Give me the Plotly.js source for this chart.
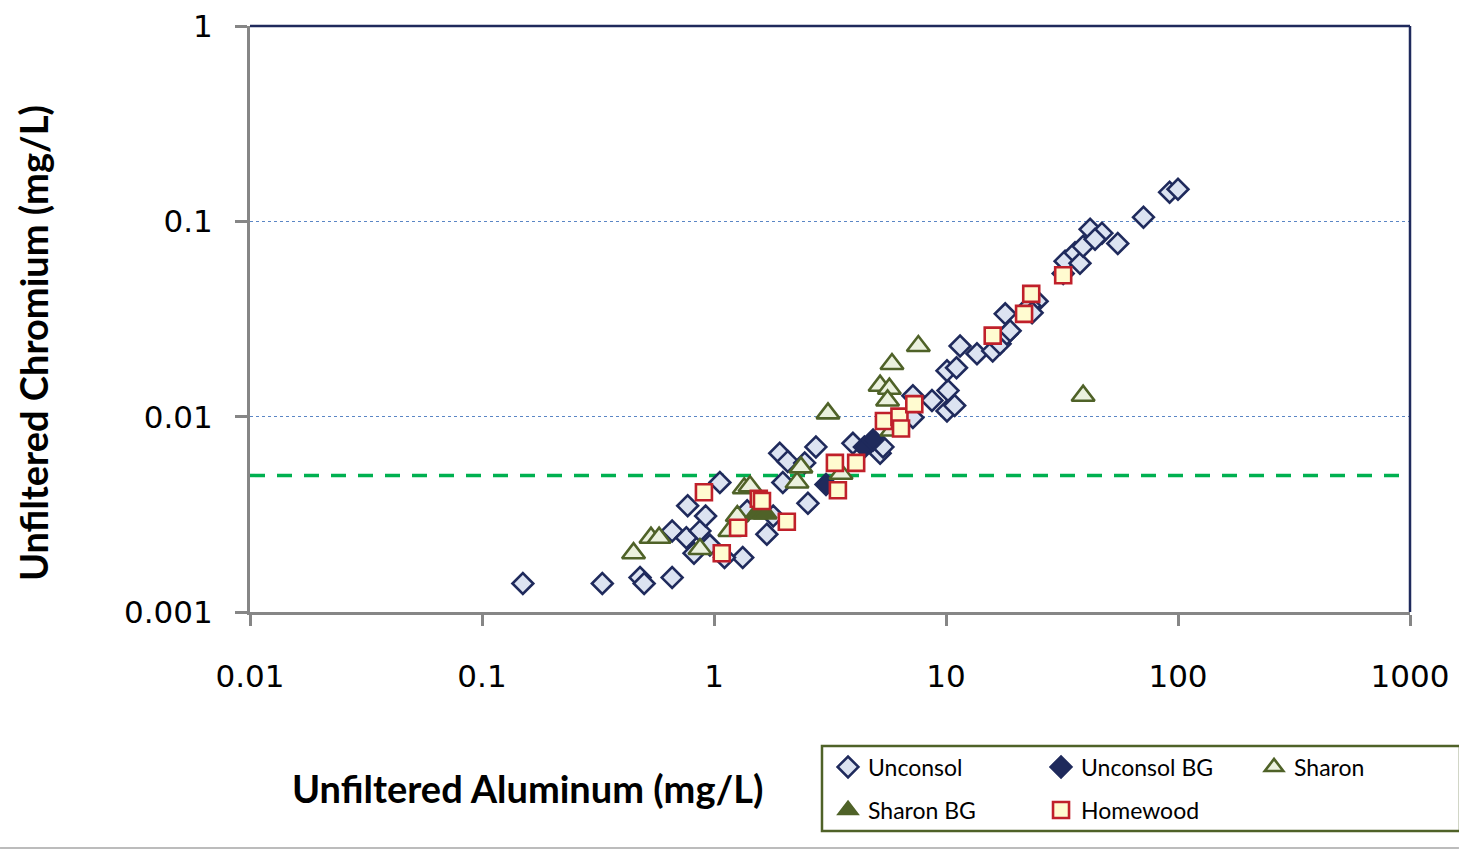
<!DOCTYPE html>
<html>
<head>
<meta charset="utf-8">
<script src="https://cdn.plot.ly/plotly-3.0.1.min.js"></script>
<style>html,body{margin:0;padding:0;background:#fff;}</style>
</head>
<body>
<div id="chart" style="width:1459px;height:850px;"></div>
<script>
// Unfiltered aluminum (mg/L) vs unfiltered chromium (mg/L), by aquifer group
const unconsolAl = [0.15, 0.33, 0.48, 0.50, 0.66, 0.66, 0.77, 0.76, 0.87, 0.82, 0.92, 1.06, 0.96, 1.33, 1.39, 1.69, 1.80, 1.92, 2.08, 1.98, 2.54, 2.75, 2.46, 1.11,
  3.97, 5.2, 5.35, 7.2, 7.2, 8.7, 10.1, 10.2, 10.9, 10.1, 11.1, 11.5, 13.6, 15.9, 17.1, 18.3, 18.0, 18.9, 24.7, 23.0, 23.5,
  32, 32.6, 36, 37.8, 39, 41.8, 47, 43.9, 55, 71, 92, 100];
const unconsolCr = [0.0014, 0.0014, 0.0015, 0.0014, 0.0015, 0.0026, 0.0035, 0.0024, 0.0026, 0.0020, 0.0031, 0.0046, 0.0022, 0.0019, 0.0033, 0.0025, 0.0031, 0.0065, 0.0059, 0.0046, 0.0036, 0.0070, 0.0058, 0.0019,
  0.0073, 0.0065, 0.0070, 0.0128, 0.0099, 0.0121, 0.0107, 0.0136, 0.0114, 0.0172, 0.0178, 0.023, 0.021, 0.0217, 0.0236, 0.0265, 0.0336, 0.0275, 0.039, 0.037, 0.034,
  0.054, 0.0625, 0.069, 0.061, 0.0745, 0.091, 0.087, 0.081, 0.077, 0.105, 0.141, 0.146];

const unconsolBgAl = [3.04, 4.45, 4.85];
const unconsolBgCr = [0.0045, 0.0070, 0.0076];

const sharonAl = [0.45, 0.535, 0.58, 0.87, 1.17, 1.26, 1.35, 1.43, 2.28, 2.37, 3.53, 3.1, 5.2, 5.7, 5.6, 5.85, 7.6, 5.85, 39];
const sharonCr = [0.0020, 0.0024, 0.0024, 0.0021, 0.0026, 0.0031, 0.0043, 0.0044, 0.0046, 0.0055, 0.0051, 0.0104, 0.0144, 0.0139, 0.0121, 0.0186, 0.023, 0.0085, 0.0128];

const sharonBgAl = [1.53, 1.66];
const sharonBgCr = [0.0032, 0.0032];

const homewoodAl = [0.905, 1.08, 1.27, 1.56, 1.61, 2.06, 3.32, 3.42, 4.1, 5.4, 6.3, 6.4, 7.3, 15.9, 21.7, 23.3, 32];
const homewoodCr = [0.0041, 0.0020, 0.0027, 0.0038, 0.0037, 0.0029, 0.0058, 0.0042, 0.0058, 0.0095, 0.0100, 0.0087, 0.0116, 0.026, 0.0336, 0.0425, 0.053];

// Chromium reference level and axis extent
const chromiumLimit = 0.005;
const xExtent = [0.01, 1000];
const xTicks = [0.01, 0.1, 1, 10, 100, 1000];
const xTickText = ['0.01', '0.1', '1', '10', '100', '1000'];
const yTicks = [0.001, 0.01, 0.1, 1];
const yTickText = ['0.001', '0.01', '0.1', '1'];

const NAVY = '#1F2A5C';
const OLIVE = '#4F6228';
const GREY = '#868686';

const traces = [
  {
    x: xExtent, y: [chromiumLimit, chromiumLimit], mode: 'lines', showlegend: false, hoverinfo: 'skip',
    line: {color: '#00B050', width: 3.5, dash: '15px,12px'}
  },
  {
    name: 'Unconsol', x: unconsolAl, y: unconsolCr, mode: 'markers', legend: 'legend',
    marker: {symbol: 'diamond', size: 16, color: '#DCE3F1', line: {color: NAVY, width: 2.6}}
  },
  {
    name: 'Unconsol BG', x: unconsolBgAl, y: unconsolBgCr, mode: 'markers', legend: 'legend',
    marker: {symbol: 'diamond', size: 16, color: NAVY, line: {color: NAVY, width: 2.6}}
  },
  {
    name: 'Sharon', x: sharonAl, y: sharonCr, mode: 'markers', legend: 'legend',
    marker: {symbol: 'triangle-up', size: 20, color: '#EBF1DE', line: {color: OLIVE, width: 2.6}}
  },
  {
    name: 'Sharon BG', x: sharonBgAl, y: sharonBgCr, mode: 'markers', legend: 'legend2',
    marker: {symbol: 'triangle-up', size: 20, color: OLIVE, line: {color: OLIVE, width: 2.6}}
  },
  {
    name: 'Homewood', x: homewoodAl, y: homewoodCr, mode: 'markers', legend: 'legend2',
    marker: {symbol: 'square', size: 16, color: '#FFFBD0', line: {color: '#C0202A', width: 2.6}}
  }
];

const tickFont = {family: 'DejaVu Sans', size: 31, color: '#000'};
const legendFont = {family: 'Lato', size: 23, color: '#000'};
const titleFont = {family: 'Lato', size: 38, color: '#000', weight: 'bold'};

const layout = {
  width: 1459, height: 850,
  margin: {l: 250, r: 49, t: 26, b: 238, autoexpand: false},
  paper_bgcolor: '#fff', plot_bgcolor: '#fff',
  showlegend: true,
  xaxis: {
    type: 'log', range: [-2, 3], tickvals: xTicks, ticktext: xTickText,
    showgrid: false, zeroline: false,
    showline: true, linecolor: GREY, linewidth: 3,
    ticks: 'outside', ticklen: 11, tickwidth: 3, tickcolor: GREY,
    tickfont: tickFont, ticklabelstandoff: 24
  },
  yaxis: {
    type: 'log', range: [-3, 0], tickvals: yTicks, ticktext: yTickText,
    showgrid: true, gridcolor: '#5B86C5', gridwidth: 1, griddash: 'dot', zeroline: false,
    showline: true, linecolor: GREY, linewidth: 3,
    ticks: 'outside', ticklen: 12, tickwidth: 3, tickcolor: GREY,
    tickfont: tickFont, ticklabelstandoff: 16
  },
  legend: {
    orientation: 'h', x: 0.4983, xanchor: 'left', y: -0.2645, yanchor: 'middle',
    font: legendFont, bgcolor: 'rgba(0,0,0,0)', borderwidth: 0,
    entrywidth: 168, itemwidth: 30, traceorder: 'normal'
  },
  legend2: {
    orientation: 'h', x: 0.4983, xanchor: 'left', y: -0.3379, yanchor: 'middle',
    font: legendFont, bgcolor: 'rgba(0,0,0,0)', borderwidth: 0,
    entrywidth: 168, itemwidth: 30, traceorder: 'normal'
  },
  shapes: [
    // plot frame: top and right edges
    {type: 'line', xref: 'paper', yref: 'paper', x0: 0, x1: 1, y0: 1, y1: 1, line: {color: NAVY, width: 2.5}},
    {type: 'line', xref: 'paper', yref: 'paper', x0: 1, x1: 1, y0: 0, y1: 1, line: {color: NAVY, width: 2.5}},
    // legend frame
    {type: 'rect', xref: 'paper', yref: 'paper', x0: 0.4931, x1: 1.0431, y0: -0.3737, y1: -0.2287,
     line: {color: OLIVE, width: 2.5}, fillcolor: 'rgba(0,0,0,0)'},
    // bottom rule
    {type: 'line', xref: 'paper', yref: 'paper', x0: -0.2155, x1: 1.0422, y0: -0.4027, y1: -0.4027,
     line: {color: '#A6A6A6', width: 1.5}}
  ],
  annotations: [
    {text: 'Unfiltered Aluminum (mg/L)', xref: 'paper', yref: 'paper', x: 0.2388, y: -0.3003,
     xanchor: 'center', yanchor: 'middle', showarrow: false, font: titleFont},
    {text: 'Unfiltered Chromium (mg/L)', xref: 'paper', yref: 'paper', x: -0.187, y: 0.459,
     xanchor: 'center', yanchor: 'middle', textangle: -90, showarrow: false, font: titleFont}
  ]
};

Plotly.newPlot('chart', traces, layout, {displayModeBar: false, staticPlot: true});
</script>
</body>
</html>
